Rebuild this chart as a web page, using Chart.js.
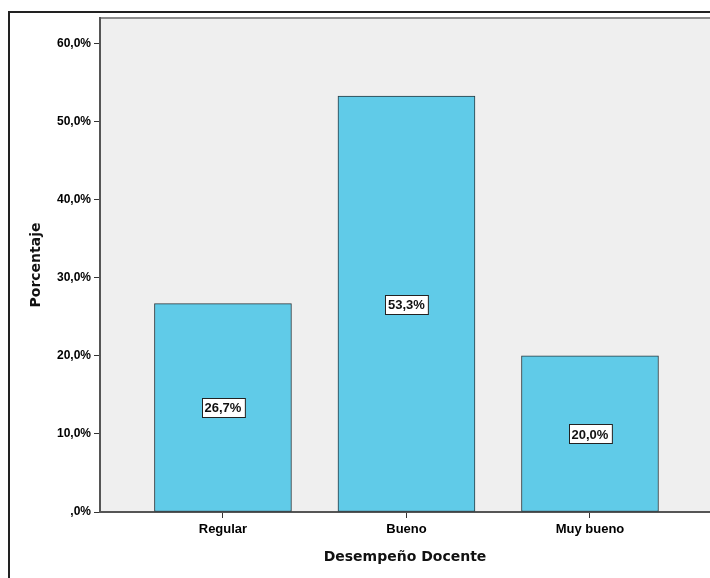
<!DOCTYPE html>
<html>
<head>
<meta charset="utf-8">
<script src="https://cdn.jsdelivr.net/npm/chart.js@4.4.1/dist/chart.umd.min.js"></script>
<style>
  html, body { margin: 0; padding: 0; background: #fff; overflow: hidden; }
  canvas { display: block; }
</style>
</head>
<body>
<canvas id="grafico" width="710" height="578"></canvas>
<script>
// datos del gráfico
const categorias = ['Regular', 'Bueno', 'Muy bueno'];
const porcentajes = [26.7, 53.3, 20.0];
const etiquetasValor = ['26,7%', '53,3%', '20,0%'];
const ticksY = [0, 10, 20, 30, 40, 50, 60];
const etiquetasY = [',0%', '10,0%', '20,0%', '30,0%', '40,0%', '50,0%', '60,0%'];

const fuente = "'Liberation Sans', Arial, sans-serif";

// fondo gris del área de trazado + marco exterior
const fondoPlugin = {
    id: 'fondo',
    beforeDraw(chart) {
        const { ctx, chartArea: a } = chart;
        ctx.save();
        ctx.fillStyle = '#efefef';
        ctx.fillRect(a.left, a.top, a.right - a.left, a.bottom - a.top);
        // borde superior del área
        ctx.strokeStyle = '#8c8c8c';
        ctx.lineWidth = 2;
        ctx.beginPath();
        ctx.moveTo(a.left, a.top);
        ctx.lineTo(a.right, a.top);
        ctx.stroke();
        // marco exterior
        ctx.strokeStyle = '#222';
        ctx.lineWidth = 2;
        ctx.beginPath();
        ctx.moveTo(9, 578);
        ctx.lineTo(9, 12);
        ctx.lineTo(710, 12);
        ctx.stroke();
        ctx.restore();
    }
};

// etiquetas de valor en el centro de cada barra
const etiquetasPlugin = {
    id: 'etiquetas',
    afterDatasetsDraw(chart) {
        const { ctx } = chart;
        const yScale = chart.scales.y;
        const meta = chart.getDatasetMeta(0);
        ctx.save();
        ctx.font = "bold 13px " + fuente;
        ctx.textAlign = 'center';
        ctx.textBaseline = 'middle';
        meta.data.forEach((bar, i) => {
            const txt = etiquetasValor[i];
            const y = yScale.getPixelForValue(porcentajes[i] / 2);
            const w = ctx.measureText(txt).width + 6;
            const h = 19;
            const x0 = Math.round(bar.x - w / 2) + 0.5;
            const y0 = Math.round(y - h / 2) + 0.5;
            ctx.fillStyle = '#fff';
            ctx.fillRect(x0, y0, w, h);
            ctx.strokeStyle = '#222';
            ctx.lineWidth = 1;
            ctx.strokeRect(x0, y0, w, h);
            ctx.fillStyle = '#111';
            ctx.fillText(txt, bar.x, y + 1);
        });
        ctx.restore();
    }
};

const ctx = document.getElementById('grafico').getContext('2d');
const grafico = new Chart(ctx, {
    type: 'bar',
    data: {
        datasets: [{
            data: porcentajes.map((v, i) => ({ x: i + 1, y: v })),
            backgroundColor: '#60cbe8',
            borderColor: '#2a3a40',
            borderWidth: 1,
            borderSkipped: false,
            barThickness: 137
        }]
    },
    options: {
        responsive: false,
        animation: false,
        devicePixelRatio: 1,
        layout: { padding: { top: 18, left: 0, right: 0, bottom: 0 } },
        plugins: {
            legend: { display: false },
            tooltip: { enabled: false }
        },
        scales: {
            x: {
                type: 'linear',
                offset: false,
                min: 0.33,
                max: 3.654,
                afterFit(scale) { scale.height = 66; },
                afterBuildTicks(scale) {
                    scale.ticks = categorias.map((c, i) => ({ value: i + 1 }));
                },
                grid: {
                    offset: false,
                    drawOnChartArea: false,
                    drawTicks: true,
                    tickLength: 6,
                    color: '#333',
                    lineWidth: 1
                },
                border: { display: true, color: '#555', width: 2 },
                ticks: {
                    autoSkip: false,
                    maxRotation: 0,
                    padding: 4,
                    color: '#000',
                    font: { family: fuente, size: 13, weight: 'bold' },
                    callback: (v) => categorias[Math.round(v) - 1]
                },
                title: {
                    display: true,
                    text: 'Desempeño Docente',
                    color: '#111',
                    font: { family: "'DejaVu Sans', sans-serif", size: 14, weight: 'bold' },
                    padding: { top: 0, bottom: 12 }
                }
            },
            y: {
                min: 0,
                max: 63.3,
                afterFit(scale) { scale.width = 100; },
                afterBuildTicks(scale) {
                    scale.ticks = ticksY.map(v => ({ value: v }));
                },
                grid: {
                    drawOnChartArea: false,
                    drawTicks: true,
                    tickLength: 6,
                    color: '#333',
                    lineWidth: 1
                },
                border: { display: true, color: '#555', width: 2 },
                ticks: {
                    padding: 3,
                    color: '#000',
                    font: { family: fuente, size: 12, weight: 'bold' },
                    callback: (v) => etiquetasY[ticksY.indexOf(v)]
                },
                title: {
                    display: true,
                    text: 'Porcentaje',
                    color: '#111',
                    font: { family: "'DejaVu Sans', sans-serif", size: 14, weight: 'bold' },
                    padding: { top: 28, bottom: 0 }
                }
            }
        }
    },
    plugins: [fondoPlugin, etiquetasPlugin]
});
</script>
</body>
</html>
